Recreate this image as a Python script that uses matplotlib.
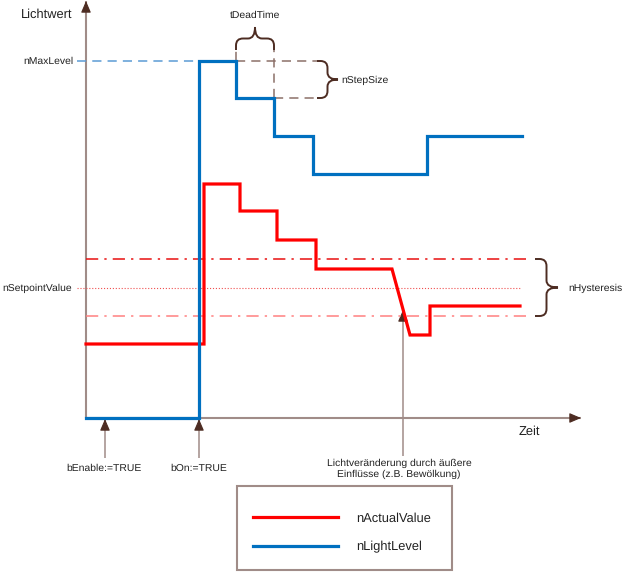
import matplotlib.pyplot as plt
from matplotlib.path import Path
from matplotlib.patches import PathPatch, Rectangle
from matplotlib.lines import Line2D

# === Diagram data (time / light units, origin at the axis cross) ===
t_light = [0, 113, 150, 188, 227, 341, 436]
v_light = [0, 357, 320, 282, 244, 282, 282]

t_actual = [0, 118, 118, 154, 154, 191, 191, 230, 230, 306, 324, 344, 344, 434]
v_actual = [74, 74, 234, 234, 207, 207, 178, 178, 149, 149, 83, 83, 112, 112]

max_level = 357
step_level = 320
setpoint = 130
hyst_upper = 159
hyst_lower = 102
t_on = 113
t_enable = 19
t_dead_start, t_dead_end = 150, 188
t_disturb = 317

series_names = ["nActualValue", "nLightLevel"]

# colours
BLUE = "#0070c0"
RED = "#ff0000"
AXIS = "#a08c88"
DARK = "#4d2c22"
TXT = "#222222"

plt.rcParams["font.family"] = ["Liberation Sans", "DejaVu Sans"]
plt.rcParams["text.hinting"] = "no_hinting"

fig = plt.figure(figsize=(6.24, 5.72), dpi=100)
ax = fig.add_axes([0, 0, 1, 1])
ax.set_xlim(-86, 538)
ax.set_ylim(-154, 418)
ax.axis("off")


def brace(x0, x1, base, depth, vertical=False, r=7):
    L = x1 - x0
    m = L / 2
    h = depth / 2
    pts = [(0, 0), (0, h - r), (0, h), (r, h), (m - r, h), (m, h), (m, depth),
           (m, h), (m + r, h), (L - r, h), (L, h), (L, h - r), (L, 0)]
    codes = [Path.MOVETO, Path.LINETO, Path.CURVE3, Path.CURVE3, Path.LINETO,
             Path.CURVE3, Path.CURVE3, Path.CURVE3, Path.CURVE3, Path.LINETO,
             Path.CURVE3, Path.CURVE3, Path.LINETO]
    if vertical:
        verts = [(base + w, x0 + u) for u, w in pts]
    else:
        verts = [(x0 + u, base + w) for u, w in pts]
    ax.add_patch(PathPatch(Path(verts, codes), fc="none", ec=DARK, lw=1.4))


def arrow(x0, y0, x1, y1, lw=1.1, head=10):
    # shaft in grey-brown, head in dark brown
    ax.plot([x0, x1], [y0, y1], color=AXIS, lw=lw, zorder=1, solid_capstyle="butt")
    dx, dy = x1 - x0, y1 - y0
    n = (dx ** 2 + dy ** 2) ** 0.5
    ax.annotate("", xy=(x1, y1), xytext=(x1 - dx / n * head, y1 - dy / n * head),
                arrowprops=dict(arrowstyle="-|>,head_length=0.7,head_width=0.3",
                                color=DARK, lw=0.8, shrinkA=0, shrinkB=0), zorder=1)


# === axes ===
arrow(0, 0, 0, 417, lw=1.5)
arrow(0, 0, 495, 0, lw=1.5)

# === reference lines ===
ax.plot([-9, t_on], [max_level, max_level], color="#5b9bd5", lw=1.1, dashes=(6, 4))
ax.plot([t_dead_start, 231], [max_level, max_level], color="#8c7068", lw=1.1, dashes=(6, 4))
ax.plot([t_dead_end, 231], [step_level, step_level], color="#8c7068", lw=1.1, dashes=(6, 4))
ax.plot([t_dead_end, t_dead_end], [step_level, 368], color="#8c7068", lw=1.1, dashes=(6, 4))
ax.plot([t_dead_start, t_dead_start], [max_level, 368], color="#8c7068", lw=1.1, dashes=(6, 4))

ax.plot([0, 444], [hyst_upper, hyst_upper], color="#e81010", lw=1.1, dashes=(8, 4, 1.5, 4))
ax.plot([-9, 434], [setpoint, setpoint], color="#f05050", lw=0.8, ls=":")
ax.plot([0, 444], [hyst_lower, hyst_lower], color="#ff8080", lw=1.1, dashes=(8, 4, 1.5, 4))

# === braces ===
brace(t_dead_start, t_dead_end, 368, 23)
brace(step_level, max_level, 231, 21, vertical=True)
brace(hyst_lower, hyst_upper, 449, 23, vertical=True)

# === series ===
ax.plot(t_actual, v_actual, color=RED, lw=2.3, solid_joinstyle="miter", zorder=3)
ax.plot(t_light, v_light, color=BLUE, lw=2.3, drawstyle="steps-post",
        solid_joinstyle="miter", zorder=3)

# === event arrows ===
arrow(t_enable, -40, t_enable, -1)
arrow(t_on, -40, t_on, -1)
arrow(t_disturb, -38, t_disturb, 108)

# === texts ===
small = 7.5
big = 9.3
ax.text(-39, 403, "Lichtwert", fontsize=big, color=TXT, ha="center", va="center")
ax.text(443, -14, "Zeit", fontsize=big, color=TXT, ha="center", va="center")
ax.text(-13, max_level, "nMaxLevel", fontsize=small, color=TXT, ha="right", va="center")
ax.text(-14, setpoint, "nSetpointValue", fontsize=small, color=TXT, ha="right", va="center")
ax.text(169, 403, "tDeadTime", fontsize=small, color=TXT, ha="center", va="center")
ax.text(255, 338, "nStepSize", fontsize=small, color=TXT, ha="left", va="center")
ax.text(482, setpoint, "nHysteresis", fontsize=small, color=TXT, ha="left", va="center")
ax.text(t_enable - 1, -50, "bEnable:=TRUE", fontsize=small, color=TXT, ha="center", va="center")
ax.text(t_on, -50, "bOn:=TRUE", fontsize=small, color=TXT, ha="center", va="center")
ax.text(313, -51, "Lichtveränderung durch äußere\nEinflüsse (z.B. Bewölkung)",
        fontsize=small, color=TXT, ha="center", va="center", linespacing=1.25)

# === legend ===
ax.add_patch(Rectangle((151, -152), 215, 84, fc="none", ec=AXIS, lw=1.5))
handles = [Line2D([], [], color=RED, lw=2.3), Line2D([], [], color=BLUE, lw=2.3)]
ax.legend(handles, series_names, loc="upper left", bbox_to_anchor=(253 / 624, 1 - 512 / 572),
          frameon=False, fontsize=big, handlelength=6.6, handletextpad=1.4,
          labelspacing=1.28, borderpad=0, borderaxespad=0, labelcolor=TXT)

fig.savefig("out.png", dpi=100)
